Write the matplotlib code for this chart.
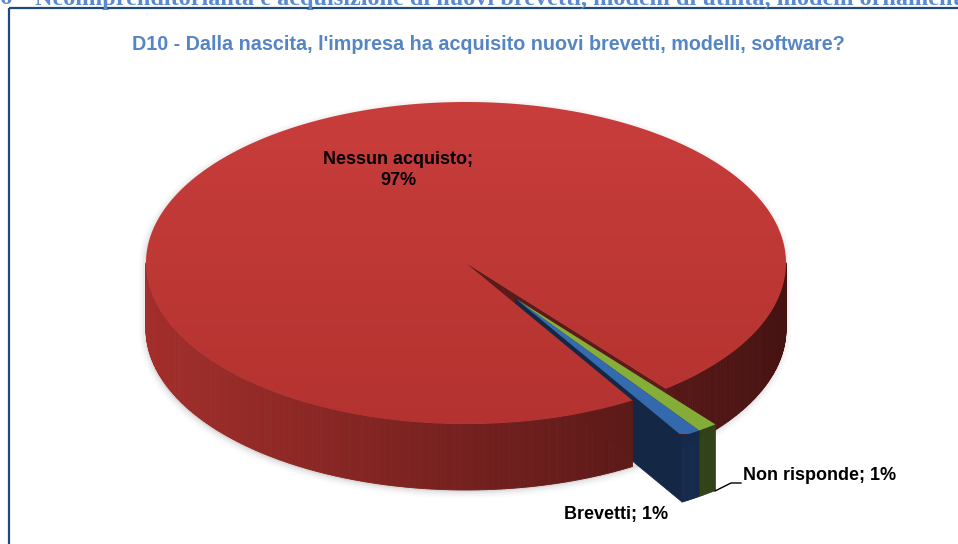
import numpy as np
import matplotlib
matplotlib.use('Agg')
import matplotlib.pyplot as plt
from matplotlib.patches import Polygon
from matplotlib.collections import PolyCollection
from matplotlib.colors import to_rgb
from matplotlib import font_manager

# survey answers
labels = ['Nessun acquisto', 'Brevetti', 'Non risponde']
values = [97, 1, 1]
title = "D10 - Dalla nascita, l'impresa ha acquisito nuovi brevetti, modelli, software?"
header = "Neoimprenditorialità e acquisizione di nuovi brevetti, modelli di utilità, modelli ornamentali"

# colours: top face (upper, lower), wall (left side, right side), radial face
top_cols = [('#c93e3c', '#b3322f'), ('#3d72b8', '#336aae'), ('#8fb843', '#84ad38')]
wall_cols = [('#a32e2b', '#461312'), ('#1a2f55', '#132442'), ('#374a1b', '#2c3a13')]
face_cols = ['#5c1a18', '#142846', '#2e3c15']

names = {f.name for f in font_manager.fontManager.ttflist}
sans = 'Liberation Sans Narrow' if 'Liberation Sans Narrow' in names else 'Liberation Sans'

W, H = 958, 544
fig = plt.figure(figsize=(W / 100, H / 100), dpi=100)
ax = fig.add_axes([0, 0, 1, 1])
ax.set_xlim(0, W)
ax.set_ylim(H, 0)
ax.axis('off')

# pie geometry in pixels
cx, cy = 466, 263
rx, ry = 320, 161
depth = 66
gap_mid = -55.0
explode = 0.27


def pt(t, r=1.0, off=(0.0, 0.0), dz=0.0):
    t = np.radians(t)
    return (cx + off[0] + rx * r * np.cos(t), cy + off[1] - ry * r * np.sin(t) + dz)


def mix(c1, c2, f):
    a, b = np.array(to_rgb(c1)), np.array(to_rgb(c2))
    return tuple(a + (b - a) * f)


def walls(s, e, off, cols, z, shade=True):
    ts = np.linspace(s, e, int(abs(e - s) * 2) + 2)
    polys, fc = [], []
    for t1, t2 in zip(ts[:-1], ts[1:]):
        tm = np.radians((t1 + t2) / 2)
        if np.sin(tm) >= 0:
            continue
        p1, p2 = pt(t1, off=off), pt(t2, off=off)
        polys.append([p1, p2, (p2[0], p2[1] + depth), (p1[0], p1[1] + depth)])
        f = (np.cos(tm) + 1) / 2 if shade else 0.5
        fc.append(mix(cols[0], cols[1], f))
    if polys:
        ax.add_collection(PolyCollection(polys, facecolors=fc, edgecolors=fc,
                                         linewidths=0.6, zorder=z))


def radial(t, off, col, z):
    c = (cx + off[0], cy + off[1])
    p = pt(t, off=off)
    ax.add_patch(Polygon([c, p, (p[0], p[1] + depth), (c[0], c[1] + depth)],
                         closed=True, fc=col, ec=col, lw=0.5, zorder=z))


def top(s, e, off, cols, z):
    ts = np.linspace(s, e, int(abs(e - s) * 2) + 2)
    verts = [(cx + off[0], cy + off[1])] + [pt(t, off=off) for t in ts]
    patch = Polygon(verts, closed=True, fc='none', ec='none', zorder=z)
    ax.add_patch(patch)
    g = np.linspace(0, 1, 256)
    grad = np.array([mix(cols[0], cols[1], v) for v in g])[:, None, :]
    im = ax.imshow(grad, extent=(0, W, cy + ry + 10, cy - ry - 10),
                   aspect='auto', interpolation='bilinear', zorder=z)
    im.set_clip_path(patch)


# slice angles, counter-clockwise: Brevetti, Non risponde, Nessun acquisto
frac = np.array(values, dtype=float) / sum(values) * 360
t0 = gap_mid - frac[1]
spans = [(t0 + frac[1] + frac[2], t0 + 360),     # Nessun acquisto
         (t0, t0 + frac[1]),                      # Brevetti
         (t0 + frac[1], t0 + frac[1] + frac[2])]  # Non risponde
ex = (rx * explode * np.cos(np.radians(gap_mid)), -ry * explode * np.sin(np.radians(gap_mid)))
offs = [(0.0, 0.0), ex, ex]

# soft shadow around the base
sil = [pt(t) for t in np.linspace(0, 180, 120)] + \
      [pt(t, dz=depth) for t in np.linspace(180, 360, 120)]
for lw, a in [(9, 0.03), (6, 0.05), (3, 0.08)]:
    ax.add_patch(Polygon([(x - 1, y + 2) for x, y in sil], closed=True,
                         fc=(0.5, 0.5, 0.5, a), ec=(0.5, 0.5, 0.5, a), lw=lw, zorder=1))

# back to front
radial(spans[0][0], offs[0], face_cols[0], 2)
walls(spans[0][0], 90, offs[0], wall_cols[0], 2.2)
radial(spans[1][0], offs[1], face_cols[1], 2.5)
walls(90, spans[0][1], offs[0], wall_cols[0], 3)
top(spans[0][0], spans[0][1], offs[0], top_cols[0], 4)
for i in (2, 1):
    walls(spans[i][0], spans[i][1], offs[i], wall_cols[i], 5, shade=False)
for i in (2, 1):
    top(spans[i][0], spans[i][1], offs[i], top_cols[i], 6)

# frame and text
ax.plot([9, 9], [H + 5, 8], color='#1f497d', lw=1.6, solid_capstyle='butt', zorder=8)
ax.plot([9, W + 5], [8, 8], color='#1f497d', lw=1.6, solid_capstyle='butt', zorder=8)
ax.text(-1, 4.5, '6', fontfamily='Liberation Serif', fontweight='bold',
        fontsize=17.5, color='#5b8ad0', va='baseline', ha='left', zorder=9)
ax.text(35, 4.5, header, fontfamily='Liberation Serif', fontweight='bold',
        fontsize=17.5, color='#5b8ad0', va='baseline', ha='left', zorder=9)

ax.text(488, 45, title, fontfamily=sans, fontweight='bold', fontsize=14.2,
        color='#5585c5', ha='center', va='center', zorder=9)
ax.text(398, 170, f'{labels[0]};\n{values[0]}%', fontfamily=sans, fontweight='bold',
        fontsize=13, ha='center', va='center', linespacing=1.3, zorder=9)
ax.text(616, 515, f'{labels[1]}; {values[1]}%', fontfamily=sans, fontweight='bold',
        fontsize=13, ha='center', va='center', zorder=9)
ax.text(743, 476, f'{labels[2]}; {values[2]}%', fontfamily=sans, fontweight='bold',
        fontsize=13, ha='left', va='center', zorder=9)
ax.plot([715, 731, 741], [491, 483, 483], color='black', lw=1, zorder=9)

fig.savefig('out.png', dpi=100)
